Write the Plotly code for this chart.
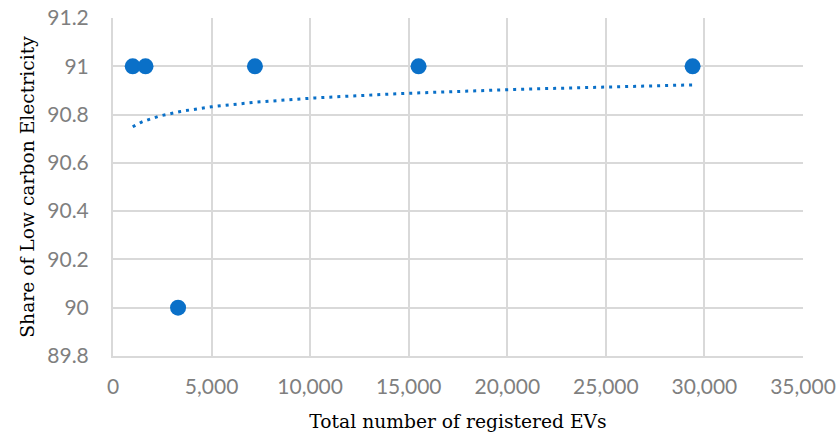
import numpy as np
import plotly.graph_objects as go

ev_counts = [1000, 1650, 3300, 7200, 15500, 29400]
low_carbon_share = [91, 91, 90, 91, 91, 91]

x_tick_vals = [0, 5000, 10000, 15000, 20000, 25000, 30000, 35000]
y_tick_vals = [89.8, 90.0, 90.2, 90.4, 90.6, 90.8, 91.0, 91.2]
y_tick_text = ["89.8", "90", "90.2", "90.4", "90.6", "90.8", "91", "91.2"]

# logarithmic trendline fitted to the data (y = a ln x + b)
a, b = np.polyfit(np.log(ev_counts), low_carbon_share, 1)
tx = np.linspace(min(ev_counts), max(ev_counts), 200)
ty = a * np.log(tx) + b

fig = go.Figure()
fig.add_trace(go.Scatter(x=tx, y=ty, mode="lines",
                         line=dict(color="#0A70C8", width=3, dash="3px,5px"),
                         hoverinfo="skip", showlegend=False))
fig.add_trace(go.Scatter(x=ev_counts, y=low_carbon_share, mode="markers",
                         marker=dict(color="#0A70C8", size=16),
                         showlegend=False))

grid = "#D9D9D9"
tickfont = dict(family="Lato, Carlito, sans-serif", size=21, color="#7F7F7F")
titlefont = dict(family="DejaVu Serif, serif", size=18.7, color="#000000")

fig.update_layout(
    width=839, height=441,
    margin=dict(l=113, r=36, t=18, b=85, autoexpand=False),
    paper_bgcolor="white", plot_bgcolor="white",
    xaxis=dict(range=[0, 35000], tickvals=x_tick_vals, tickformat=",d",
               showgrid=True, gridcolor=grid, gridwidth=2,
               showline=True, linecolor=grid, linewidth=2,
               zeroline=False, ticks="outside", ticklen=11, tickcolor="rgba(0,0,0,0)",
               tickfont=tickfont, automargin=False, ticklabeloverflow="allow",
               title=dict(text="Total number of registered EVs", font=titlefont, standoff=18)),
    yaxis=dict(range=[89.8, 91.2], tickvals=y_tick_vals, ticktext=y_tick_text,
               showgrid=True, gridcolor=grid, gridwidth=2,
               showline=True, linecolor=grid, linewidth=2,
               zeroline=False, ticks="outside", ticklen=18, tickcolor="rgba(0,0,0,0)",
               tickfont=tickfont, automargin=False, ticklabeloverflow="allow",
               title=dict(text="Share of Low carbon Electricity", font=titlefont, standoff=8)),
)

fig.write_html("out.html", config={"displayModeBar": False},
               post_script="document.body.style.margin='0';document.body.style.overflow='hidden';")
